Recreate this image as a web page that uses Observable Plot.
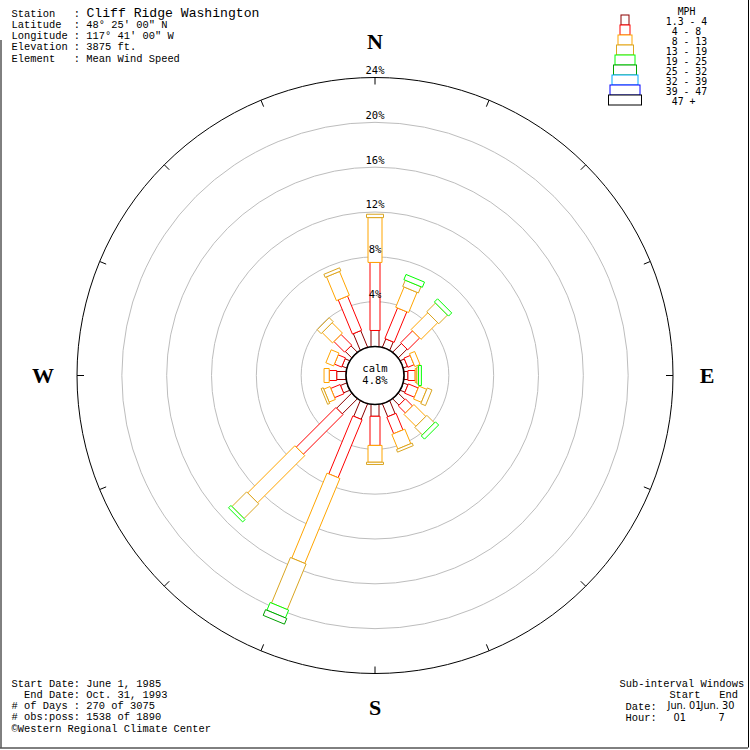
<!DOCTYPE html>
<html><head><meta charset="utf-8">
<script src="https://cdn.jsdelivr.net/npm/d3@7"></script>
<script src="https://cdn.jsdelivr.net/npm/@observablehq/plot@0.6"></script>
<style>
html,body{margin:0;padding:0;background:#fff;overflow:hidden;}
#chart{width:750px;height:750px;}
svg text{white-space:pre;}
</style></head><body><div id="chart"></div>
<script>
// ---------- data ----------
const directions = ["N","NNE","NE","ENE","E","ESE","SE","SSE","S","SSW","SW","WSW","W","WNW","NW","NNW"];
const speedBins = ["1.3 - 4","4 - 8"," 8 - 13","13 - 19","19 - 25","25 - 32","32 - 39","39 - 47","47 + "];
const binColors = ["#8b0000","#ff0000","#ffa500","#daa520","#00ff00","#00a000","#00aaff","#0000ff","#000000"];
const binWidths = [8,10,14,17,20,23,26,30,33];
// percent of observations, per direction, for each speed bin (MPH)
const pct_1_4   = [1.43,0.80,1.10,0.40,0.35,0.45,0.80,1.25,1.05,1.50,1.90,0.60,0.83,0.45,0.80,1.60];
const pct_4_8   = [6.07,2.95,1.50,0.60,0.65,0.95,0.90,1.60,2.60,5.60,5.00,0.90,0.67,0.70,1.35,3.30];
const pct_8_13  = [4.00,1.95,2.10,0.50,0.15,0.75,1.50,1.40,1.50,8.20,5.95,0.60,0.46,0.75,1.30,2.30];
const pct_13_19 = [0.30,0.60,1.10,0.00,0.15,0.45,0.95,0.25,0.20,4.40,1.85,0.20,0.00,0.00,0.50,0.30];
const pct_19_25 = [0.00,0.50,0.40,0.00,0.25,0.00,0.40,0.00,0.00,0.75,0.30,0.00,0.00,0.00,0.00,0.00];
const pct_25_32 = [0.00,0.00,0.00,0.00,0.00,0.00,0.00,0.00,0.00,0.55,0.00,0.00,0.00,0.00,0.00,0.00];
const pct_32_39 = [0,0,0,0,0,0,0,0,0,0,0,0,0,0,0,0];
const pct_39_47 = [0,0,0,0,0,0,0,0,0,0,0,0,0,0,0,0];
const pct_47up  = [0,0,0,0,0,0,0,0,0,0,0,0,0,0,0,0];
const calmPct = 4.8;
const ringPcts = [4,8,12,16,20,24];
const cardinals = ["N","E","S","W"];
const cardinalAngles = [0,90,180,270];

const headerLines = ["Station   :","Latitude  : 48° 25' 00\" N","Longitude : 117° 41' 00\" W","Elevation : 3875 ft.","Element   : Mean Wind Speed"];
const stationName = "Cliff Ridge Washington";
const footerLeft = ["Start Date: June 1, 1985","  End Date: Oct. 31, 1993","# of Days : 270 of 3075","# obs:poss: 1538 of 1890","©Western Regional Climate Center"];
const footerRight = ["Sub-interval Windows","        Start   End","Date:","Hour:"];
const windowValues = ["Jun. 01","Jun. 30","01","7"];

// ---------- geometry ----------
const CX = 374.5, CY = 375;
const rad = d3.scaleLinear().domain([0, 24]).range([29, 298]);
const series = [pct_1_4,pct_4_8,pct_8_13,pct_13_19,pct_19_25,pct_25_32,pct_32_39,pct_39_47,pct_47up];

const polys = [];
directions.forEach((d, i) => {
  const th = i * 22.5 * Math.PI / 180;
  const ux = Math.sin(th), uy = Math.cos(th), vx = Math.cos(th), vy = -Math.sin(th);
  let cum = 0;
  series.forEach((vals, b) => {
    const v = vals[i];
    if (!(v > 0)) return;
    const r0 = rad(cum), r1 = rad(cum + v);
    cum += v;
    const h = binWidths[b] / 2;
    [[r0,-h],[r1,-h],[r1,h],[r0,h],[r0,-h]].forEach(([r, o]) =>
      polys.push({id: d + "-" + b, x: r*ux + o*vx, y: r*uy + o*vy, color: binColors[b]}));
  });
});

const ticks = d3.range(16).map(i => {
  const th = i * 22.5 * Math.PI / 180;
  return {x1: 291*Math.sin(th), y1: 291*Math.cos(th), x2: 298*Math.sin(th), y2: 298*Math.cos(th)};
});

const tx = px => px - CX, ty = py => CY - py;

const plot = Plot.plot({
  width: 750, height: 750, margin: 0,
  x: {domain: [-CX, 750 - CX], axis: null},
  y: {domain: [CY - 750, CY], axis: null},
  r: {type: "identity"},
  color: {type: "identity"},
  style: {background: "white"},
  marks: [
    // gray rings
    Plot.dot(ringPcts.slice(0, -1), {x: 0, y: 0, r: p => rad(p), stroke: "#bdbdbd", strokeWidth: 1, fill: "none"}),
    // outer circle
    Plot.dot([24], {x: 0, y: 0, r: p => rad(p), stroke: "black", strokeWidth: 1, fill: "none"}),
    Plot.link(ticks, {x1: "x1", y1: "y1", x2: "x2", y2: "y2", stroke: "black", strokeWidth: 1}),
    // petals
    Plot.line(polys, {x: "x", y: "y", z: "id", stroke: "color", fill: "white", strokeWidth: 1, strokeLinejoin: "miter", strokeLinecap: "butt"}),
    // calm circle
    Plot.dot([calmPct], {x: 0, y: 0, r: () => rad(0), stroke: "black", strokeWidth: 1.6, fill: "white"}),
    Plot.text(["calm", calmPct.toFixed(1) + "%"], {x: 0, y: (d, i) => i === 0 ? 7 : -5, text: d => d, fontFamily: "DejaVu Sans Mono", fontSize: 10.5, fill: "black"}),
    // ring labels
    Plot.text(ringPcts, {x: 0, y: p => rad(p) + 7, text: p => p + "%", fontFamily: "DejaVu Sans Mono", fontSize: 10.5, fill: "black"}),
    // cardinal letters
    Plot.text(cardinals, {x: (d, i) => 332*Math.sin(cardinalAngles[i]*Math.PI/180), y: (d, i) => 332*Math.cos(cardinalAngles[i]*Math.PI/180) + (i === 0 ? 1.5 : 0), text: d => d, fontFamily: "Liberation Serif", fontWeight: "bold", fontSize: 22, fill: "black"}),
    // legend
    Plot.text(["MPH"], {x: tx(686), y: ty(11), text: d => d, fontFamily: "DejaVu Sans Mono", fontSize: 9.8, fill: "black"}),
    Plot.rect(speedBins, {x1: (d, i) => tx(625) - binWidths[i]/2, x2: (d, i) => tx(625) + binWidths[i]/2, y1: (d, i) => ty(15 + 10*i), y2: (d, i) => ty(25 + 10*i), stroke: (d, i) => binColors[i], fill: "white", strokeWidth: 1}),
    Plot.text(speedBins, {x: tx(686), y: (d, i) => ty(21.5 + 10*i), text: d => d, fontFamily: "DejaVu Sans Mono", fontSize: 9.8, fill: "black"}),
    // header
    Plot.text(headerLines, {x: tx(11), y: (d, i) => ty(16 + 11.25*i), text: d => d, textAnchor: "start", lineAnchor: "bottom", fontFamily: "Liberation Mono", fontSize: 10.4, fill: "black"}),
    Plot.text([stationName], {x: tx(86), y: ty(16.5), text: d => d, textAnchor: "start", lineAnchor: "bottom", fontFamily: "Liberation Mono", fontSize: 13.1, fill: "black"}),
    // footer left
    Plot.text(footerLeft, {x: tx(11), y: (d, i) => ty(686 + 11.3*i), text: d => d, textAnchor: "start", lineAnchor: "bottom", fontFamily: "Liberation Mono", fontSize: 10.4, fill: "black"}),
    // footer right
    Plot.text(footerRight, {x: (d, i) => tx(i < 2 ? 619 : 625), y: (d, i) => ty(686.7 + 11.2*i), text: d => d, textAnchor: "start", lineAnchor: "bottom", fontFamily: "Liberation Mono", fontSize: 10.4, fill: "black"}),
    Plot.text(windowValues, {x: (d, i) => tx([667, 700, 673, 718][i]), y: (d, i) => ty(i < 2 ? 708.5 : 720), text: d => d, textAnchor: "start", lineAnchor: "bottom", fontFamily: "DejaVu Sans", fontSize: 9.8, fill: "black"}),
    // border
    Plot.ruleX([tx(0.5)], {y1: ty(40), y2: ty(747.5), stroke: "black"}),
    Plot.ruleX([tx(748)], {y1: ty(0), y2: ty(747.5), stroke: "black"}),
    Plot.ruleY([ty(747.5)], {x1: tx(0), x2: tx(748), stroke: "black"})
  ]
});
document.getElementById("chart").append(plot);
</script>
</body></html>
